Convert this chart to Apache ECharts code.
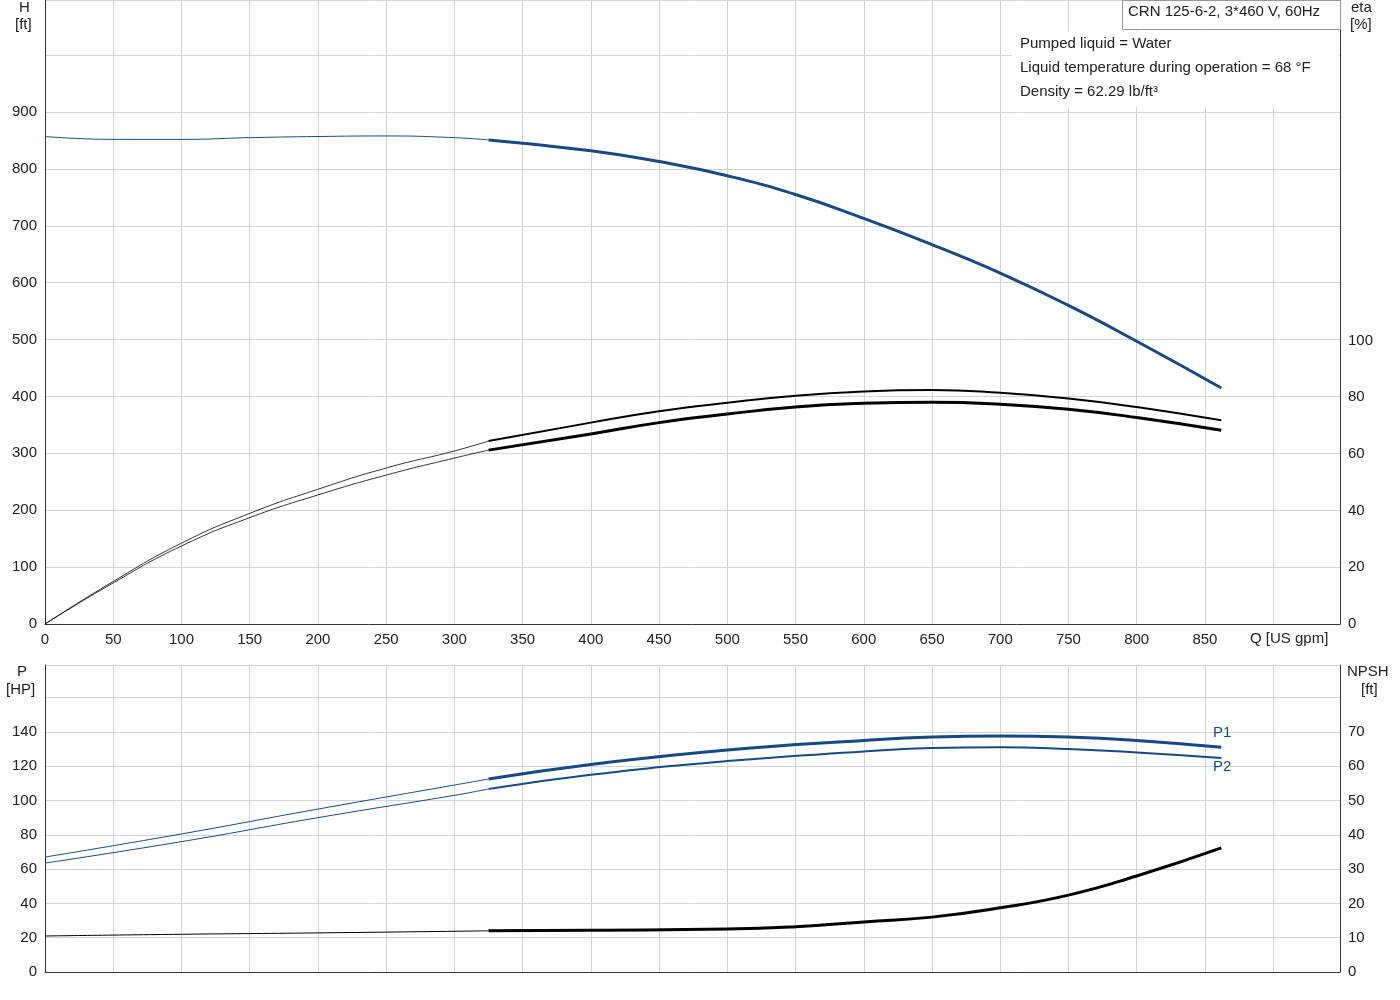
<!DOCTYPE html>
<html>
<head>
<meta charset="utf-8">
<script src="https://cdn.jsdelivr.net/npm/echarts@6/dist/echarts.min.js"></script>
<style>html,body{margin:0;background:#fff}#c{width:1400px;height:1000px}</style>
</head>
<body>
<div id="c"></div>
<script>
const headThin = [[0, 857], [50, 852], [100, 852], [150, 855], [200, 857], [250, 858], [300, 855], [325, 851]]
const headThick = [[325, 851], [400, 832], [450, 813], [500, 788], [550, 755], [600, 713], [650, 667], [700, 617], [750, 560], [800, 497], [862, 415]]
const etaUpThin = [[0, 0], [50, 15], [100, 28.5], [150, 39], [200, 47.5], [250, 55], [300, 61], [325, 64.5]]
const etaUpThick = [[325, 64.5], [400, 71], [450, 75], [500, 78], [550, 80.5], [600, 82], [650, 82.5], [700, 81.5], [750, 79.5], [800, 76.5], [862, 71.8]]
const etaLoThin = [[0, 0], [50, 14.5], [100, 27.5], [150, 37.5], [200, 45.5], [250, 52.5], [300, 58.5], [325, 61.3]]
const etaLoThick = [[325, 61.3], [400, 67], [450, 71], [500, 74], [550, 76.5], [600, 77.8], [650, 78.2], [700, 77.5], [750, 75.7], [800, 72.8], [862, 68.3]]
const p1Thin = [[0, 67], [100, 80.5], [200, 95], [300, 109], [325, 112.5]]
const p1Thick = [[325, 112.5], [400, 121], [500, 129.5], [600, 135], [650, 137], [700, 137.6], [750, 137], [800, 135], [862, 131]]
const p2Thin = [[0, 63.5], [100, 76], [200, 90], [300, 103], [325, 106.7]]
const p2Thick = [[325, 106.7], [400, 115], [500, 123], [600, 128.5], [650, 130.6], [700, 131], [750, 130], [800, 128], [862, 124.8]]
const npshThin = [[0, 10.5], [100, 11], [200, 11.4], [325, 12]]
const npshThick = [[325, 12], [400, 12.2], [500, 12.5], [550, 13.2], [600, 14.6], [650, 16], [700, 18.7], [750, 22.4], [800, 28], [862, 36.2]]

const blue = '#174a84'
const font = { fontFamily: 'Liberation Sans', fontSize: 15, color: '#222' }
const split = { show: true, lineStyle: { color: '#d4d4d4' } }
const axLine = { show: true, lineStyle: { color: '#333' } }
const lim = (m) => (v) => (v <= m ? `${v}` : '')

const line = (data, x, y, color, width) => ({
  type: 'line', data, xAxisIndex: x, yAxisIndex: y, smooth: 0.5, symbol: 'none',
  lineStyle: { color, width }, animation: false,
})
const txt = (left, top, text, fill = '#222') => ({
  type: 'text', left, top, z: 100, style: { text, fill, font: '15px Liberation Sans' },
})

const chart = echarts.init(document.getElementById('c'))
chart.setOption({
  animation: false,
  grid: [
    { left: 45, right: 60, top: 0, height: 624 },
    { left: 45, right: 60, top: 665, height: 307 },
  ],
  xAxis: [
    { gridIndex: 0, type: 'value', min: 0, max: 949, interval: 50, axisLine: axLine, axisTick: { show: false }, splitLine: split, axisLabel: { ...font, formatter: lim(850) } },
    { gridIndex: 1, type: 'value', min: 0, max: 949, interval: 50, axisLine: axLine, axisTick: { show: false }, splitLine: split, axisLabel: { show: false } },
  ],
  yAxis: [
    { gridIndex: 0, type: 'value', min: 0, max: 1097, interval: 100, axisLine: axLine, axisTick: { show: false }, splitLine: split, axisLabel: { ...font, formatter: lim(900) } },
    { gridIndex: 0, type: 'value', position: 'right', min: 0, max: 220, interval: 20, axisLine: axLine, axisTick: { show: false }, splitLine: { show: false }, axisLabel: { ...font, formatter: lim(100) } },
    { gridIndex: 1, type: 'value', min: 0, max: 179, interval: 20, axisLine: axLine, axisTick: { show: false }, splitLine: split, axisLabel: { ...font, formatter: lim(140) } },
    { gridIndex: 1, type: 'value', position: 'right', min: 0, max: 89.5, interval: 10, axisLine: axLine, axisTick: { show: false }, splitLine: { show: false }, axisLabel: { ...font, formatter: lim(70) } },
  ],
  series: [
    line(headThin, 0, 0, blue, 1), line(headThick, 0, 0, blue, 3),
    line(etaUpThin, 0, 1, '#000', 0.8), line(etaUpThick, 0, 1, '#000', 2),
    line(etaLoThin, 0, 1, '#000', 0.8), line(etaLoThick, 0, 1, '#000', 3),
    line(p1Thin, 1, 2, blue, 1), line(p1Thick, 1, 2, blue, 3),
    line(p2Thin, 1, 2, blue, 1), line(p2Thick, 1, 2, blue, 2),
    line(npshThin, 1, 3, '#000', 1), line(npshThick, 1, 3, '#000', 3),
  ],
  graphic: [
    { type: 'rect', z: 90, shape: { x: 0, y: 0, width: 44, height: 34 }, style: { fill: '#fff' } },
    { type: 'rect', z: 90, shape: { x: 1341, y: 0, width: 59, height: 34 }, style: { fill: '#fff' } },
    txt(19, 0, 'H'), txt(15, 17, '[ft]'),
    txt(1351, 0, 'eta'), txt(1350, 17, '[%]'),
    txt(1250, 631, 'Q [US gpm]'),
    txt(17, 664, 'P'), txt(6, 682, '[HP]'),
    txt(1347, 664, 'NPSH'), txt(1361, 682, '[ft]'),
    txt(1213, 725, 'P1', blue), txt(1213, 759, 'P2', blue),
    { type: 'rect', z: 95, shape: { x: 1122.5, y: 0.5, width: 218, height: 29 }, style: { fill: '#fff', stroke: '#999' } },
    txt(1128, 4, 'CRN 125-6-2, 3*460 V, 60Hz'),
    { type: 'rect', z: 95, shape: { x: 1012, y: 31, width: 327, height: 76 }, style: { fill: '#fff' } },
    txt(1020, 36, 'Pumped liquid = Water'),
    txt(1020, 60, 'Liquid temperature during operation = 68 °F'),
    txt(1020, 84, 'Density = 62.29 lb/ft³'),
  ],
})
</script>
</body>
</html>
